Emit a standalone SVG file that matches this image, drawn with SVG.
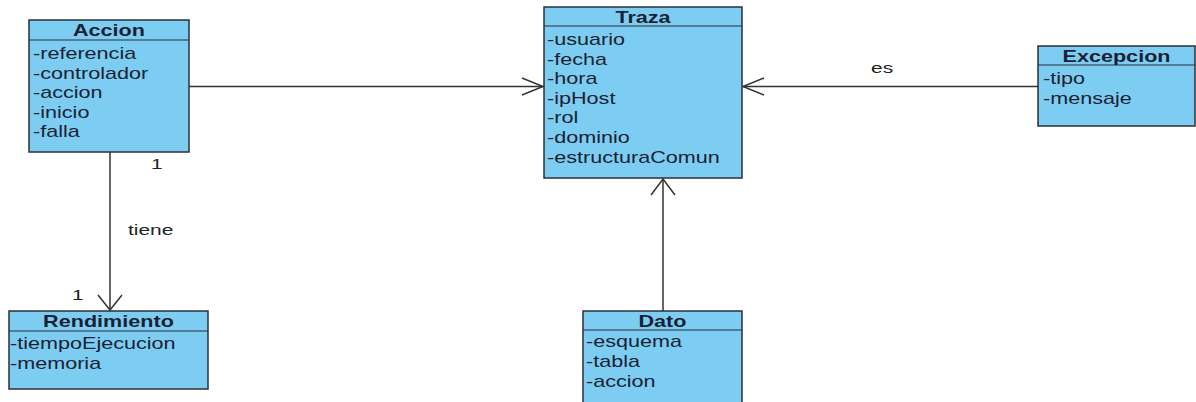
<svg xmlns="http://www.w3.org/2000/svg" width="1196" height="402" viewBox="0 0 1196 402">
  <style>
    .box { fill: #7ccdf1; stroke: #2b2f3a; stroke-width: 1.5; }
    .sep { stroke: #2b2f3a; stroke-width: 1.2; }
    .t { font-family: "Liberation Sans", Arial, sans-serif; font-size: 16px; fill: #1b1f33; }
    .h { font-weight: bold; text-anchor: middle; }
    .lbl { font-family: "Liberation Sans", Arial, sans-serif; font-size: 15.5px; fill: #222; }
    .edge { stroke: #333; stroke-width: 1.5; fill: none; }
  </style>
  <rect width="1196" height="402" fill="#ffffff"/>

  <!-- associations -->
  <g id="connectors">
    <!-- Accion -> Traza -->
    <path class="edge" d="M189 86.5 H543"/>
    <path class="edge" d="M522 78 L543 86.5 L522 95"/>
    <!-- Excepcion -> Traza (es) -->
    <path class="edge" d="M1038 86.5 H743"/>
    <path class="edge" d="M764 78 L743 86.5 L764 95"/>
    <text class="lbl" transform="translate(871 73) scale(1.35 1)">es</text>
    <!-- Dato -> Traza -->
    <path class="edge" d="M663 311 V179"/>
    <path class="edge" d="M651 195 L663 179 L675 195"/>
    <!-- Accion -> Rendimiento (tiene) -->
    <path class="edge" d="M110 152 V310"/>
    <path class="edge" d="M98 295 L110 310 L122 295"/>
    <text class="lbl" transform="translate(151 169) scale(1.35 1)">1</text>
    <text class="lbl" transform="translate(128 235) scale(1.35 1)">tiene</text>
    <text class="lbl" transform="translate(72 300) scale(1.35 1)">1</text>
  </g>

  <g id="accion">
    <rect class="box" x="29" y="20" width="160" height="132"/>
    <line class="sep" x1="29" y1="40" x2="189" y2="40"/>
    <text class="t h" transform="translate(109 36) scale(1.35 1)">Accion</text>
    <text class="t" transform="translate(33 59) scale(1.35 1)">-referencia</text>
    <text class="t" transform="translate(33 78.5) scale(1.35 1)">-controlador</text>
    <text class="t" transform="translate(33 98) scale(1.35 1)">-accion</text>
    <text class="t" transform="translate(33 117.5) scale(1.35 1)">-inicio</text>
    <text class="t" transform="translate(33 137) scale(1.35 1)">-falla</text>
  </g>

  <g id="traza">
    <rect class="box" x="544" y="7" width="198" height="171"/>
    <line class="sep" x1="544" y1="26" x2="742" y2="26"/>
    <text class="t h" transform="translate(643 22.5) scale(1.35 1)">Traza</text>
    <text class="t" transform="translate(547 45) scale(1.35 1)">-usuario</text>
    <text class="t" transform="translate(547 64.6) scale(1.35 1)">-fecha</text>
    <text class="t" transform="translate(547 84.2) scale(1.35 1)">-hora</text>
    <text class="t" transform="translate(547 103.8) scale(1.35 1)">-ipHost</text>
    <text class="t" transform="translate(547 123.4) scale(1.35 1)">-rol</text>
    <text class="t" transform="translate(547 143) scale(1.35 1)">-dominio</text>
    <text class="t" transform="translate(547 162.6) scale(1.35 1)">-estructuraComun</text>
  </g>

  <g id="excepcion">
    <rect class="box" x="1038" y="46" width="157" height="80"/>
    <line class="sep" x1="1038" y1="65" x2="1195" y2="65"/>
    <text class="t h" transform="translate(1116.5 62) scale(1.35 1)">Excepcion</text>
    <text class="t" transform="translate(1043 84) scale(1.35 1)">-tipo</text>
    <text class="t" transform="translate(1043 103.5) scale(1.35 1)">-mensaje</text>
  </g>

  <g id="rendimiento">
    <rect class="box" x="9" y="311" width="199" height="78"/>
    <line class="sep" x1="9" y1="331" x2="208" y2="331"/>
    <text class="t h" transform="translate(108.5 326.5) scale(1.35 1)">Rendimiento</text>
    <text class="t" transform="translate(10 349) scale(1.35 1)">-tiempoEjecucion</text>
    <text class="t" transform="translate(10 368.5) scale(1.35 1)">-memoria</text>
  </g>

  <g id="dato">
    <rect class="box" x="583" y="311" width="159" height="95"/>
    <line class="sep" x1="583" y1="330" x2="742" y2="330"/>
    <text class="t h" transform="translate(662.5 326.5) scale(1.35 1)">Dato</text>
    <text class="t" transform="translate(586 347) scale(1.35 1)">-esquema</text>
    <text class="t" transform="translate(586 367) scale(1.35 1)">-tabla</text>
    <text class="t" transform="translate(586 387) scale(1.35 1)">-accion</text>
  </g>
</svg>
